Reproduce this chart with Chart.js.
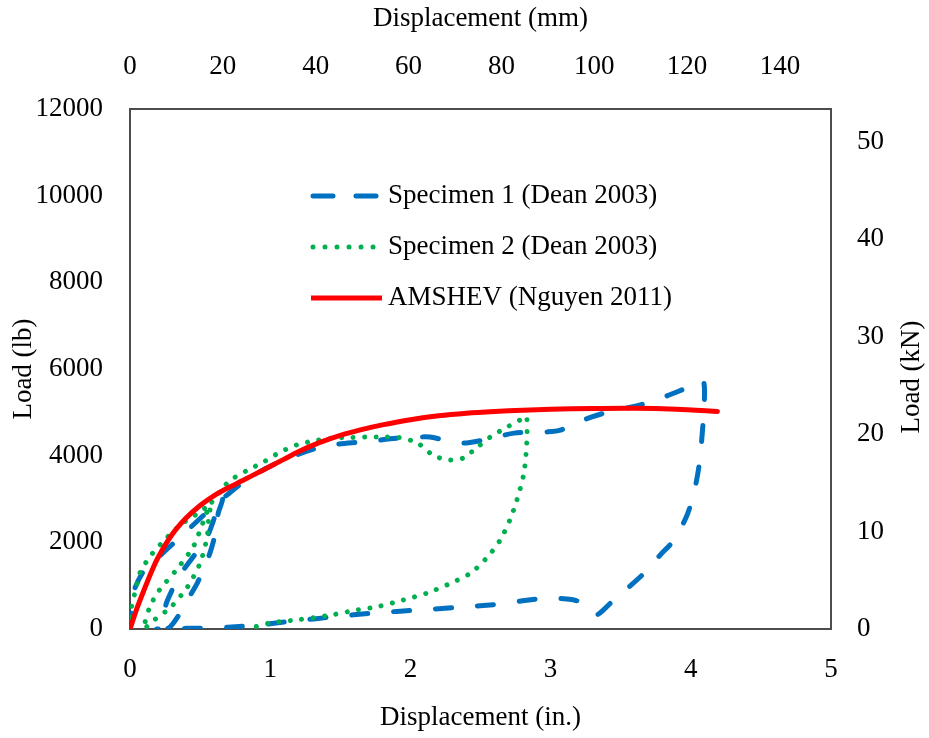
<!DOCTYPE html>
<html><head><meta charset="utf-8">
<script src="https://cdn.jsdelivr.net/npm/chart.js@4.4.1/dist/chart.umd.min.js"></script>
<style>html,body{margin:0;padding:0;background:#fff;}canvas{display:block;}</style>
</head><body>
<canvas id="c" width="929" height="738"></canvas>
<script>
// ---- data (displacement in inches, load in lb) ----
const seriesNames = ['Specimen 1 (Dean 2003)', 'Specimen 2 (Dean 2003)', 'AMSHEV (Nguyen 2011)'];

const spec1X = [0,0.01,0.03,0.1,0.2,0.3,0.4,0.5,0.6,0.66,
  0.63,0.61,0.57,0.52,0.48,0.41,0.34,0.29,0.26,
  0.24,0.26,0.3,0.33,0.38,0.45,0.5,0.55,0.59,0.62,0.66,
  0.71,0.83,0.95,1.07,1.19,1.31,1.43,1.67,1.9,2.05,2.14,2.24,2.38,2.52,2.74,2.98,3.07,3.2,3.3,3.38,3.5,3.64,3.79,3.9,4.0,4.09,
  4.09,4.06,4.02,3.97,3.88,3.78,3.69,3.57,3.45,3.38,3.33,3.27,3.21,3.15,2.98,2.8,2.66,2.38,2.07,1.74,1.45,1.17,0.91,0.7,0.5,0.3,0.19];
const spec1Y = [0,500,900,1350,1650,1950,2250,2550,2850,3000,
  2680,2220,1750,1360,1060,670,280,60,0,
  300,600,900,1130,1360,1660,1890,2120,2450,2750,3000,
  3140,3440,3670,3860,4020,4150,4250,4320,4400,4430,4430,4360,4290,4360,4520,4550,4590,4780,4900,4980,5070,5170,5330,5470,5600,5720,
  4890,3800,3100,2600,2050,1700,1360,1000,670,450,330,450,620,680,715,650,580,510,440,370,280,185,90,40,20,10,0];

const spec2X = [0,0.01,0.04,0.07,0.14,0.26,0.38,0.5,0.57,
  0.56,0.55,0.5,0.41,0.29,0.17,0.1,
  0.14,0.21,0.33,0.45,0.52,0.57,
  0.65,0.71,0.83,0.95,1.07,1.19,1.31,1.43,1.57,1.71,1.83,1.95,2.02,2.07,2.14,2.2,2.26,2.33,2.38,2.48,2.57,2.69,2.81,2.83,
  2.83,2.81,2.76,2.71,2.64,2.55,2.43,2.29,2.12,1.95,1.76,1.62,1.43,1.19,1.0,0.86];
const spec2Y = [0,500,900,1290,1660,2100,2450,2700,2860,
  2500,2120,1520,970,500,200,0,
  500,900,1360,1890,2450,2860,
  3200,3420,3650,3850,4080,4250,4340,4400,4420,4430,4430,4410,4330,4250,4060,3960,3900,3910,3950,4200,4430,4660,4870,4900,
  4290,3600,2980,2520,2050,1660,1290,1060,830,670,510,440,320,210,140,20];

const amshevX = [0,0.05,0.1,0.15,0.2,0.3,0.4,0.5,0.6,0.7,0.8,0.95,1.1,1.2,1.35,1.5,1.65,1.8,2.0,2.2,2.4,2.6,2.8,3.0,3.3,3.6,3.9,4.19];
const amshevY = [0,480,900,1300,1650,2180,2560,2850,3080,3260,3420,3670,3920,4090,4300,4470,4600,4710,4830,4920,4980,5020,5050,5070,5090,5095,5070,5020];

// axis tick settings
const xTicksIn = {min: 0, max: 5, step: 1};
const xTicksMm = {min: 0, max: 151, step: 20};
const yTicksLb = {min: 0, max: 12000, step: 2000};
const yTicksKn = {min: 0, max: 12000 * 0.0044482216, step: 10};

// ---- styling ----
const FAMILY = '"Liberation Serif", "Times New Roman", serif';
const FONT = {family: FAMILY, size: 27, weight: 'normal'};
const TXT = '#000000';
const BORDER = '#4d4d4d';
const colors = ['#0070C0', '#00B050', '#FF0000'];
const dashes = [[16, 26], [0.01, 11.5], []];
const legendDashes = [[20, 23], [0.01, 12], []];

function pts(xs, ys) { return xs.map((x, i) => ({x: x, y: ys[i]})); }

const datasets = [
  {label: seriesNames[0], data: pts(spec1X, spec1Y), borderColor: colors[0], borderDash: dashes[0], borderWidth: 5, order: 2},
  {label: seriesNames[1], data: pts(spec2X, spec2Y), borderColor: colors[1], borderDash: dashes[1], borderWidth: 5, order: 1},
  {label: seriesNames[2], data: pts(amshevX, amshevY), borderColor: colors[2], borderDash: dashes[2], borderWidth: 5, order: 0}
].map(d => Object.assign(d, {showLine: true, pointRadius: 0, pointHoverRadius: 0, tension: 0.25, borderCapStyle: 'round', borderJoinStyle: 'round', fill: false, backgroundColor: d.borderColor}));

function keepSteps(step) {
  return function (scale) { scale.ticks = scale.ticks.filter(t => Math.abs(t.value / step - Math.round(t.value / step)) < 1e-6); };
}
const plain = v => String(v);

const overlay = {
  id: 'overlay',
  afterDraw(chart) {
    const ctx = chart.ctx;
    ctx.save();
    const rows = [196, 247, 298];
    chart.data.datasets.forEach((ds, i) => {
      const y = rows[i];
      ctx.strokeStyle = ds.borderColor;
      ctx.lineWidth = 5;
      ctx.lineCap = i === 2 ? 'butt' : 'round';
      ctx.setLineDash(legendDashes[i]);
      ctx.beginPath();
      if (i === 2) { ctx.moveTo(311, y); ctx.lineTo(382, y); }
      else { ctx.moveTo(313, y); ctx.lineTo(376, y); }
      ctx.stroke();
      ctx.setLineDash([]);
      ctx.fillStyle = TXT;
      ctx.font = FONT.size + 'px ' + FAMILY;
      ctx.textBaseline = 'middle';
      ctx.textAlign = 'left';
      ctx.fillText(ds.label, 388, y);
    });
    const a = chart.chartArea;
    ctx.translate(912, (a.top + a.bottom) / 2 + 8);
    ctx.rotate(-Math.PI / 2);
    ctx.textAlign = 'center';
    ctx.textBaseline = 'middle';
    ctx.fillStyle = TXT;
    ctx.font = FONT.size + 'px ' + FAMILY;
    ctx.fillText('Load (kN)', 0, 0);
    ctx.restore();
  }
};

const commonGrid = {display: false, drawTicks: false};
const commonBorder = {display: true, color: BORDER, width: 2};

new Chart(document.getElementById('c'), {
  type: 'scatter',
  data: {datasets: datasets},
  plugins: [overlay],
  options: {
    responsive: false,
    animation: false,
    layout: {padding: 0},
    plugins: {legend: {display: false}, tooltip: {enabled: false}},
    scales: {
      x: {
        type: 'linear', position: 'bottom', min: xTicksIn.min, max: xTicksIn.max,
        ticks: {stepSize: xTicksIn.step, font: FONT, color: TXT, padding: 24.5, maxRotation: 0, callback: plain},
        grid: commonGrid, border: commonBorder,
        title: {display: true, text: 'Displacement (in.)', font: FONT, color: TXT, padding: {top: 0, bottom: 3.5}},
        afterFit: s => { s.height = 109; }
      },
      x2: {
        type: 'linear', position: 'top', display: true, min: xTicksMm.min, max: xTicksMm.max,
        afterBuildTicks: keepSteps(xTicksMm.step),
        ticks: {stepSize: xTicksMm.step, includeBounds: false, font: FONT, color: TXT, padding: 25.5, maxRotation: 0, autoSkip: false, callback: plain},
        grid: commonGrid, border: commonBorder,
        title: {display: true, text: 'Displacement (mm)', font: FONT, color: TXT, padding: {top: 2.5, bottom: 0}},
        afterFit: s => { s.height = 109; }
      },
      y: {
        type: 'linear', position: 'left', min: yTicksLb.min, max: yTicksLb.max,
        ticks: {stepSize: yTicksLb.step, font: FONT, color: TXT, padding: 27, callback: plain},
        grid: commonGrid, border: commonBorder,
        title: {display: true, text: 'Load (lb)', font: FONT, color: TXT, padding: {top: 7.5, bottom: 0}},
        afterFit: s => { s.width = 130; }
      },
      y2: {
        type: 'linear', position: 'right', display: true, min: yTicksKn.min, max: yTicksKn.max,
        afterBuildTicks: keepSteps(yTicksKn.step),
        ticks: {stepSize: yTicksKn.step, includeBounds: false, font: FONT, color: TXT, padding: 26, autoSkip: false, callback: plain},
        grid: commonGrid, border: commonBorder,
        title: {display: false},
        afterFit: s => { s.width = 98; }
      }
    }
  }
});
</script>
</body></html>
